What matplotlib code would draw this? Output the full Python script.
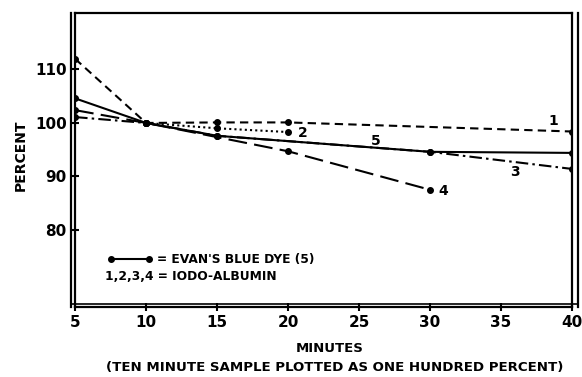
import matplotlib
matplotlib.use("Agg")
import matplotlib.pyplot as plt
from matplotlib.lines import Line2D

# Data
s1_x = [5, 10, 15, 20, 40]
s1_y = [112.0, 100.0, 100.1, 100.1, 98.4]
s2_x = [10, 15, 20]
s2_y = [100.0, 99.0, 98.3]
s3_x = [5, 10, 15, 30, 40]
s3_y = [101.1, 100.0, 97.6, 94.6, 91.4]
s4_x = [5, 10, 20, 30]
s4_y = [102.4, 100.0, 94.7, 87.5]
s5_x = [5, 10, 15, 30, 40]
s5_y = [104.6, 100.0, 97.6, 94.6, 94.4]

x_ticks = [5, 10, 15, 20, 25, 30, 35, 40]
y_ticks = [80, 90, 100, 110]

plt.rcParams['font.family'] = ['DejaVu Sans']
fig = plt.figure(figsize=(5.82, 3.77), dpi=100)
ax = fig.add_axes([0.129, 0.186, 0.854, 0.78])

lw = 1.5
ms = 4
ax.plot(s1_x, s1_y, color='black', lw=lw, dashes=(4, 2.5), marker='o', ms=ms)
ax.plot(s2_x, s2_y, color='black', lw=lw, dashes=(1, 1.5), marker='o', ms=ms)
ax.plot(s3_x, s3_y, color='black', lw=lw, dashes=(6, 2, 1.2, 2), marker='o', ms=ms)
ax.plot(s4_x, s4_y, color='black', lw=lw, dashes=(9, 3.5), marker='o', ms=ms)
ax.plot(s5_x, s5_y, color='black', lw=lw, ls='-', marker='o', ms=ms)

ax.set_xlim(5, 40)
ax.set_ylim(65.6, 120.6)
ax.set_xticks(x_ticks)
ax.set_yticks(y_ticks)
ax.tick_params(direction='inout', length=6, width=1.5, labelsize=11, pad=3)
for lab in ax.get_xticklabels() + ax.get_yticklabels():
    lab.set_fontweight('bold')
for sp in ax.spines.values():
    sp.set_linewidth(1.6)

# Double-line frame (outer lines)
fig.add_artist(Line2D([71/582, 71/582], [1-13/377, 1-307/377], color='black', lw=1.6))
fig.add_artist(Line2D([578/582, 578/582], [1-13/377, 1-307/377], color='black', lw=1.6))
fig.add_artist(Line2D([71/582, 578/582], [1-304/377, 1-304/377], color='black', lw=1.2))

# Series labels
lab_kw = dict(fontsize=10, fontweight='bold', ha='center', va='center')
ax.text(38.7, 100.3, '1', **lab_kw)
ax.text(21.0, 98.2, '2', **lab_kw)
ax.text(36.0, 90.9, '3', **lab_kw)
ax.text(30.9, 87.2, '4', **lab_kw)
ax.text(26.2, 96.6, '5', **lab_kw)

# Legend (manual)
ax.plot([7.5, 10.2], [74.5, 74.5], color='black', lw=lw, marker='o', ms=ms)
ax.text(10.8, 74.5, "= EVAN'S BLUE DYE (5)", fontsize=8.8, fontweight='bold', va='center', ha='left')
ax.text(7.1, 71.2, "1,2,3,4 = IODO-ALBUMIN", fontsize=8.8, fontweight='bold', va='center', ha='left')

fig.text(0.036, 1 - 155/377, 'PERCENT', rotation=90, fontsize=10, fontweight='bold', ha='center', va='center')
fig.text(0.567, 1 - 349/377, 'MINUTES', fontsize=9.5, fontweight='bold', ha='center', va='center')
fig.text(0.575, 1 - 368/377, '(TEN MINUTE SAMPLE PLOTTED AS ONE HUNDRED PERCENT)', fontsize=9.6, fontweight='bold', ha='center', va='center')

fig.savefig('out.png', dpi=100)
